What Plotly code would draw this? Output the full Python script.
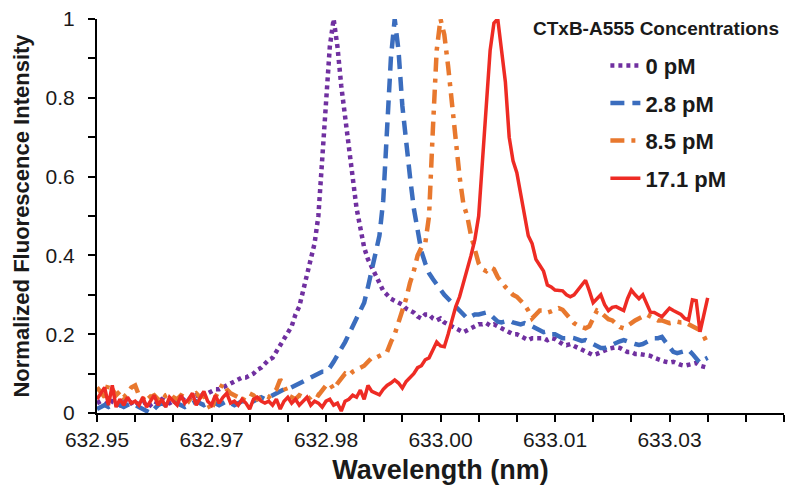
import numpy as np
import plotly.graph_objects as go

# Wavelength sampling (nm), 0.0005 nm step from 632.95 to 633.03
wavelength = np.round(632.95 + 0.0005 * np.arange(161), 4)

series_names = ["0 pM", "2.8 pM", "8.5 pM", "17.1 pM"]

pm0 = [
    0.025, 0.03, 0.025, 0.02, 0.03, 0.025, 0.02, 0.03, 0.035, 0.025,
    0.03, 0.02, 0.025, 0.03, 0.02, 0.03, 0.025, 0.035, 0.03, 0.025,
    0.03, 0.035, 0.03, 0.04, 0.035, 0.04, 0.045, 0.04, 0.05, 0.05,
    0.055, 0.06, 0.06, 0.065, 0.07, 0.075, 0.08, 0.085, 0.09, 0.09,
    0.095, 0.10, 0.11, 0.115, 0.125, 0.135, 0.14, 0.155, 0.17, 0.185,
    0.2, 0.22, 0.25, 0.27, 0.31, 0.35, 0.39, 0.43, 0.5, 0.64,
    0.78, 0.93, 1.0, 0.93, 0.83, 0.75, 0.67, 0.6, 0.52, 0.47,
    0.42, 0.39, 0.37, 0.35, 0.33, 0.31, 0.30, 0.29, 0.285, 0.28,
    0.275, 0.265, 0.26, 0.255, 0.245, 0.24, 0.25, 0.25, 0.24, 0.235,
    0.24, 0.23, 0.225, 0.22, 0.215, 0.21, 0.205, 0.21, 0.215, 0.22,
    0.225, 0.225, 0.228, 0.222, 0.225, 0.22, 0.215, 0.21, 0.205, 0.2,
    0.2, 0.195, 0.19, 0.185, 0.19, 0.19, 0.192, 0.19, 0.185, 0.19,
    0.188, 0.18, 0.175, 0.172, 0.175, 0.17, 0.165, 0.16, 0.155, 0.15,
    0.147, 0.15, 0.155, 0.16, 0.163, 0.165, 0.167, 0.165, 0.16, 0.155,
    0.155, 0.15, 0.15, 0.148, 0.147, 0.145, 0.14, 0.135, 0.133, 0.13,
    0.128, 0.13, 0.125, 0.122, 0.12, 0.122, 0.125, 0.127, 0.12, 0.118, 0.115,
]

pm2_8 = [
    0.01, 0.015, 0.02, 0.015, 0.02, 0.025, 0.02, 0.015, 0.02, 0.025,
    0.02, 0.015, 0.01, 0.005, 0.0, 0.01, 0.02, 0.025, 0.02, 0.025,
    0.03, 0.025, 0.02, 0.015, 0.02, 0.025, 0.03, 0.025, 0.02, 0.025,
    0.03, 0.025, 0.02, 0.025, 0.03, 0.025, 0.02, 0.025, 0.03, 0.03,
    0.035, 0.03, 0.035, 0.04, 0.035, 0.04, 0.045, 0.05, 0.055, 0.06,
    0.06, 0.065, 0.07, 0.075, 0.08, 0.085, 0.09, 0.095, 0.10, 0.105,
    0.105, 0.115, 0.13, 0.145, 0.16, 0.18, 0.2, 0.22, 0.24, 0.26,
    0.28, 0.32, 0.36, 0.40, 0.45, 0.54, 0.72, 0.9, 1.0, 0.92,
    0.78, 0.68, 0.6, 0.52, 0.46, 0.41, 0.38, 0.355, 0.34, 0.325,
    0.31, 0.30, 0.29, 0.28, 0.27, 0.26, 0.25, 0.24, 0.245, 0.25,
    0.25, 0.252, 0.255, 0.25, 0.24, 0.232, 0.23, 0.232, 0.235, 0.23,
    0.228, 0.225, 0.228, 0.225, 0.22, 0.215, 0.21, 0.205, 0.207, 0.2,
    0.2, 0.195, 0.19, 0.19, 0.192, 0.19, 0.185, 0.183, 0.185, 0.18,
    0.175, 0.17, 0.165, 0.165, 0.17, 0.175, 0.18, 0.182, 0.185, 0.18,
    0.178, 0.175, 0.173, 0.175, 0.18, 0.185, 0.19, 0.19, 0.193, 0.18,
    0.165, 0.155, 0.152, 0.155, 0.16, 0.16, 0.15, 0.14, 0.127, 0.135, 0.14,
]

pm8_5 = [
    0.065, 0.05, 0.04, 0.075, 0.06, 0.045, 0.055, 0.04, 0.05, 0.065,
    0.07, 0.045, 0.035, 0.05, 0.04, 0.045, 0.035, 0.03, 0.045, 0.05,
    0.04, 0.035, 0.045, 0.04, 0.03, 0.045, 0.05, 0.04, 0.045, 0.025,
    0.005, 0.04, 0.06, 0.075, 0.06, 0.05, 0.045, 0.04, 0.03, 0.045,
    0.05, 0.045, 0.035, 0.04, 0.045, 0.04, 0.05, 0.06, 0.085, 0.07,
    0.045, 0.04, 0.035, 0.045, 0.04, 0.035, 0.04, 0.05, 0.045, 0.06,
    0.07, 0.075, 0.06, 0.075, 0.09, 0.1, 0.095, 0.105, 0.11, 0.115,
    0.12, 0.13, 0.14, 0.14, 0.145, 0.15, 0.155, 0.18, 0.2, 0.23,
    0.26, 0.29, 0.33, 0.36, 0.40, 0.42, 0.43, 0.5, 0.72, 0.92,
    1.0, 0.96, 0.88, 0.78, 0.70, 0.6, 0.53, 0.5, 0.45, 0.41,
    0.38, 0.365, 0.36, 0.37, 0.365, 0.345, 0.33, 0.32, 0.31, 0.3,
    0.295, 0.285, 0.275, 0.26, 0.24, 0.25, 0.26, 0.26, 0.255, 0.258,
    0.262, 0.266, 0.262, 0.25, 0.24, 0.228, 0.222, 0.218, 0.215, 0.22,
    0.24, 0.26, 0.255, 0.245, 0.238, 0.235, 0.225, 0.218, 0.215, 0.22,
    0.228, 0.235, 0.24, 0.245, 0.25, 0.245, 0.24, 0.235, 0.235, 0.23,
    0.228, 0.23, 0.232, 0.23, 0.23, 0.225, 0.22, 0.218, 0.21, 0.195, 0.175,
]

pm17_1 = [
    0.035, 0.05, 0.065, 0.02, 0.07, 0.015, 0.035, 0.02, 0.04, 0.025,
    0.03, 0.02, 0.04, 0.015, 0.03, 0.045, 0.02, 0.035, 0.015, 0.04,
    0.03, 0.02, 0.045, 0.025, 0.035, 0.05, 0.02, 0.04, 0.055, 0.03,
    0.02, 0.045, 0.025, 0.04, 0.05, 0.025, 0.03, 0.02, 0.035, 0.025,
    0.01, 0.035, 0.04, 0.03, 0.025, 0.03, 0.02, 0.035, 0.01, 0.03,
    0.04, 0.025, 0.035, 0.02, 0.03, 0.04, 0.02, 0.03, 0.025, 0.015,
    0.03, 0.035, 0.02, 0.025, 0.005, 0.03, 0.035, 0.045, 0.04, 0.058,
    0.035, 0.07, 0.055, 0.05, 0.046, 0.06, 0.07, 0.076, 0.084, 0.076,
    0.063, 0.08, 0.09, 0.1, 0.115, 0.12, 0.135, 0.14, 0.16, 0.18,
    0.17, 0.168, 0.2, 0.236, 0.27, 0.295, 0.33, 0.36, 0.4, 0.44,
    0.5, 0.64, 0.77, 0.92, 0.99, 1.0, 0.92, 0.84, 0.7, 0.64,
    0.61, 0.56, 0.5, 0.45, 0.43, 0.39, 0.375, 0.36, 0.325, 0.32,
    0.312, 0.31, 0.31, 0.3, 0.295, 0.3, 0.312, 0.325, 0.337, 0.31,
    0.28, 0.29, 0.3, 0.275, 0.26, 0.268, 0.27, 0.265, 0.26, 0.29,
    0.312, 0.3, 0.29, 0.3, 0.28, 0.256, 0.255, 0.25, 0.244, 0.255,
    0.266, 0.26, 0.256, 0.25, 0.24, 0.236, 0.287, 0.285, 0.206, 0.25, 0.292,
]

# Axis ticks
x_tick_vals = [632.95, 632.955, 632.96, 632.965, 632.97, 632.975, 632.98, 632.985,
               632.99, 632.995, 633.00, 633.005, 633.01, 633.015, 633.02, 633.025,
               633.03, 633.035, 633.04]
x_tick_text = ["632.95", "", "", "632.97", "", "", "632.98", "", "", "633.00", "",
               "", "633.01", "", "", "633.03", "", "", ""]
y_tick_vals = [0, 0.1, 0.2, 0.3, 0.4, 0.5, 0.6, 0.7, 0.8, 0.9, 1.0]
y_tick_text = ["0", "", "0.2", "", "0.4", "", "0.6", "", "0.8", "", "1"]

colors = ["#7030A0", "#3B6DBE", "#E8782E", "#EE2B24"]
dashes = ["4px,4px", "14px,8px", "14px,7px,4px,7px", "solid"]
widths = [4.5, 4.5, 4.5, 3.5]
series = [pm0, pm2_8, pm8_5, pm17_1]

FONT = "Liberation Sans, Arial, sans-serif"

fig = go.Figure()
for i, (name, vals) in enumerate(zip(series_names, series)):
    fig.add_trace(go.Scatter(
        x=wavelength, y=vals, mode="lines", name=name,
        legendgroup=f"g{i}",
        line=dict(color=colors[i], width=widths[i], dash=dashes[i]),
    ))

fig.update_layout(
    width=803, height=491,
    margin=dict(l=89, r=27, t=11, b=86, autoexpand=False),
    paper_bgcolor="white", plot_bgcolor="white",
    font=dict(family=FONT, color="#1a1a1a"),
    showlegend=True,
    legend=dict(
        x=0.74, xanchor="left", y=0.935, yanchor="top",
        font=dict(size=22, family=FONT, weight="bold", color="#1a1a1a"),
        bgcolor="rgba(0,0,0,0)", borderwidth=0,
        tracegroupgap=6, itemwidth=30,
    ),
    annotations=[dict(
        text="CTxB-A555 Concentrations", xref="paper", yref="paper",
        x=0.632, y=0.977, xanchor="left", yanchor="middle", showarrow=False,
        font=dict(size=19, family=FONT, weight="bold", color="#1a1a1a"),
    )],
)

fig.update_xaxes(
    range=[632.95, 633.04], tickmode="array", tickvals=x_tick_vals, ticktext=x_tick_text,
    automargin=False, ticklabeloverflow="allow",
    showgrid=False, zeroline=False, showline=True, linecolor="black", linewidth=2,
    ticks="outside", ticklen=7, tickwidth=2, tickcolor="black",
    tickfont=dict(size=21, family=FONT, color="#1a1a1a"),
    title=dict(text="Wavelength (nm)", standoff=10,
               font=dict(size=27, family=FONT, weight="bold", color="#1a1a1a")),
)
fig.update_yaxes(
    range=[0, 1], tickmode="array", tickvals=y_tick_vals, ticktext=y_tick_text,
    automargin=False, ticklabeloverflow="allow",
    showgrid=False, zeroline=False, showline=True, linecolor="black", linewidth=2,
    ticks="outside", ticklen=7, tickwidth=2, tickcolor="black",
    tickfont=dict(size=21, family=FONT, color="#1a1a1a"),
    ticklabelstandoff=9,
    title=dict(text="Normalized Fluorescence Intensity", standoff=10,
               font=dict(size=22, family=FONT, weight="bold", color="#1a1a1a")),
)

fig.write_html("out.html")
